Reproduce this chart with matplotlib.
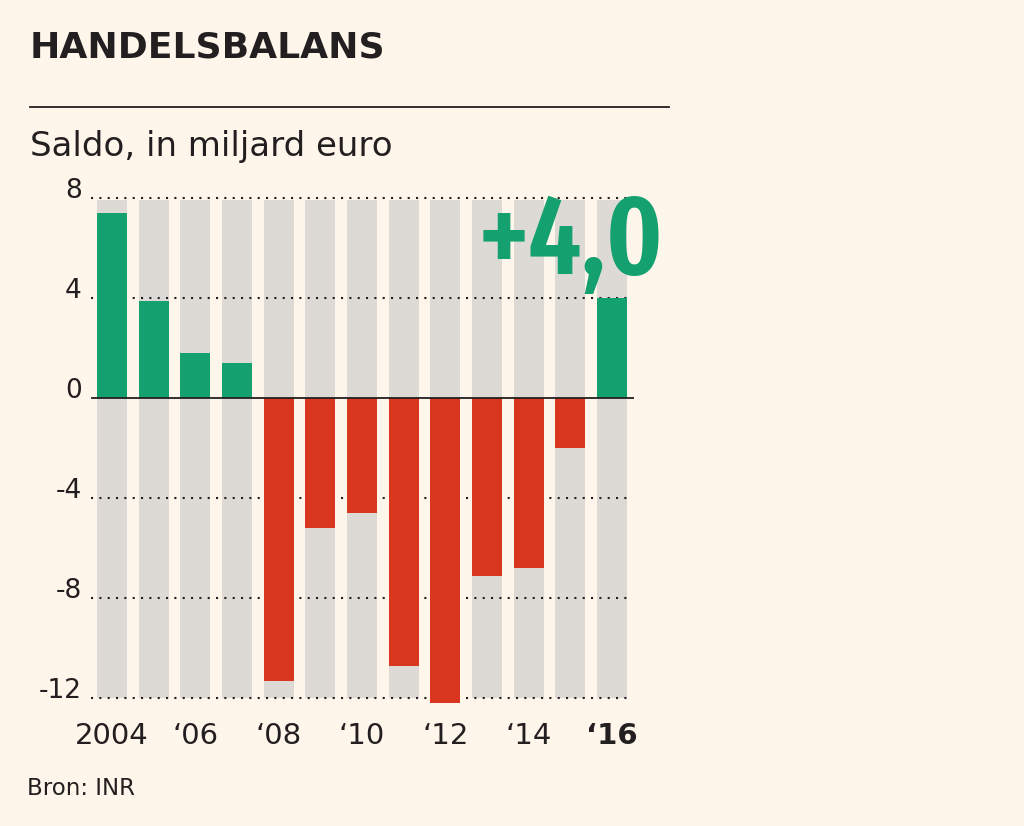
import matplotlib
matplotlib.use("Agg")
import matplotlib.pyplot as plt
from matplotlib import font_manager

# data: trade balance, billion euro
years = list(range(2004, 2017))
saldo = [7.4, 3.9, 1.8, 1.4, -11.3, -5.2, -4.6, -10.7, -12.2, -7.1, -6.8, -2.0, 4.0]
tick_years = [2004, 2006, 2008, 2010, 2012, 2014, 2016]
tick_labels = ["2004", "\u201806", "\u201808", "\u201810", "\u201812", "\u201814", "\u201816"]
y_ticks = [-12, -8, -4, 0, 4, 8]

BG = "#fef6ea"
GREY = "#dddad5"
GREEN = "#14a06f"
RED = "#d9361f"
INK = "#231f20"


def pick_condensed(target_weight=600):
    # prefer the narrowest face on the system near the wanted weight
    best = None
    for f in font_manager.fontManager.ttflist:
        fn = f.fname.replace(" ", "")
        if "ExtraCondensed" in fn or "ExtraCondensed" in f.name.replace(" ", ""):
            width_score = 0
        elif "SemiCondensed" in fn:
            width_score = 2
        elif "Condensed" in fn or "Narrow" in fn or "Condensed" in f.name or "Narrow" in f.name:
            width_score = 1
        else:
            continue
        if "DejaVu" in f.name:
            width_score += 3
        if "Italic" in fn or "Oblique" in fn:
            continue
        w = f.weight if isinstance(f.weight, int) else 700 if "bold" in str(f.weight) else 400
        score = width_score * 1000 + abs(w - target_weight)
        if best is None or score < best[0]:
            best = (score, f.fname)
    if best:
        return font_manager.FontProperties(fname=best[1])
    return font_manager.FontProperties(family="Roboto", weight="bold")


big_font = pick_condensed()

fig = plt.figure(figsize=(10.24, 8.26), dpi=100, facecolor=BG)
ax = fig.add_axes([0.08789, 0.1398, 0.53125, 0.6265])
ax.set_facecolor(BG)

x = list(range(len(years)))
width = 0.72

# grey background columns
ax.bar(x, [y_ticks[-1] - y_ticks[0] - 0.08] * len(x), bottom=y_ticks[0], width=width,
       color=GREY, zorder=1)

# dotted gridlines
grid = [t for t in y_ticks if t != 0]
ax.hlines(grid, -0.5, 12.43, colors=INK, linestyles=(0, (1, 3)), linewidth=1.5, zorder=2)

colors = [GREEN if v >= 0 else RED for v in saldo]
ax.bar(x, saldo, width=width, color=colors, zorder=3)
ax.axhline(0, xmin=0.003, xmax=1, color=INK, linewidth=1.3, zorder=4)

ax.set_xlim(-0.53, 12.53)
ax.set_ylim(-12.5, 8.2)
for s in ax.spines.values():
    s.set_visible(False)

ax.set_xticks([years.index(t) for t in tick_years])
ax.set_xticklabels(tick_labels, fontsize=21, color=INK)
ax.get_xticklabels()[-1].set_fontweight("bold")
ax.set_yticks(y_ticks)
ax.set_yticklabels([str(t) for t in y_ticks], fontsize=19, color=INK)
for lab in ax.get_yticklabels():
    lab.set_verticalalignment("baseline")
ax.tick_params(axis="x", length=0, pad=8)
ax.tick_params(axis="y", length=0, pad=6)

# highlighted last value
last = saldo[-1]
big_font.set_size(82)
ax.text(13.25, 4.95, ("+" if last >= 0 else "") + f"{last:.1f}".replace(".", ","),
        ha="right", va="baseline", fontproperties=big_font,
        color=GREEN, clip_on=False, zorder=5)

# header
fig.text(30 / 1024, 1 - 57 / 826, "HANDELSBALANS", fontsize=26, fontweight="bold",
         color=INK, ha="left", va="baseline")
fig.add_artist(plt.Line2D([30 / 1024, 669 / 1024], [1 - 107 / 826] * 2,
                          color=INK, linewidth=1.3))
fig.text(30 / 1024, 1 - 156 / 826, "Saldo, in miljard euro", fontsize=24.5,
         color=INK, ha="left", va="baseline")
fig.text(27 / 1024, 1 - 795 / 826, "Bron: INR", fontsize=16.5,
         color=INK, ha="left", va="baseline")

fig.savefig("out.png", dpi=100, facecolor=BG)
